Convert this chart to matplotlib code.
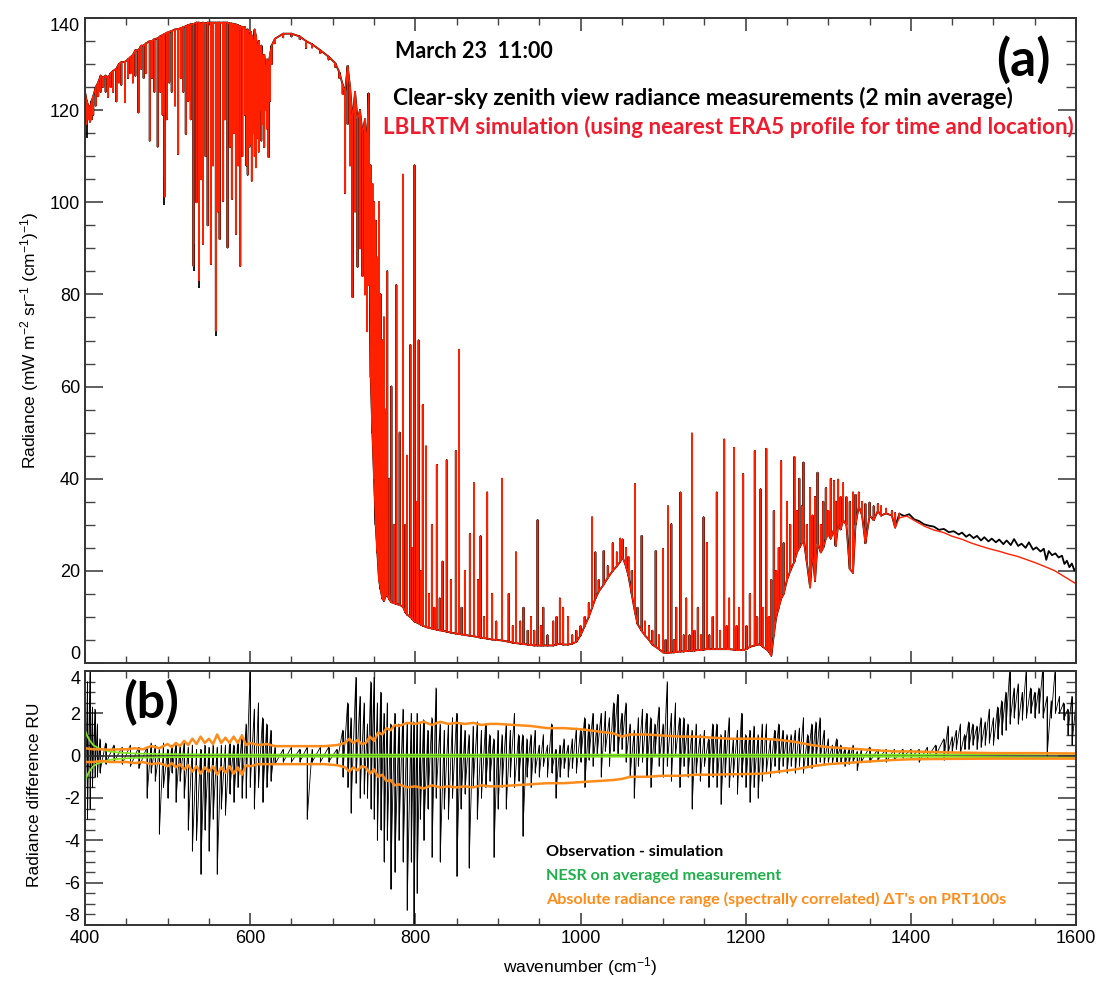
import numpy as np
import matplotlib
matplotlib.use("Agg")
import matplotlib.pyplot as plt
from matplotlib.ticker import MultipleLocator

plt.rcParams['font.family'] = ['Liberation Sans', 'DejaVu Sans']
plt.rcParams['mathtext.default'] = 'regular'
plt.rcParams['axes.unicode_minus'] = False

# ------------------------------------------------------------
# Panel (a): simulated spectrum
# (wavenumber, lower value, upper value) at each read position
# ------------------------------------------------------------
sim_wn = [400, 402, 404, 406, 408, 410, 413, 416, 419, 422, 425, 428, 431, 434, 438, 441, 444, 448.5,
          452, 455, 458, 461, 464.7, 468, 471, 474, 478.4, 481, 484, 488, 491, 494, 496.2, 499, 502,
          505, 509, 512.8, 516, 519, 522, 525, 528, 531.4, 535, 538, 540.5, 542.9, 546, 548.5, 552.4,
          555, 558.4, 561, 563, 567.3, 569.5, 572.6, 575.4, 577.8, 580.5, 582.7, 585.5, 588, 590.5,
          593.6, 595.5, 597, 599, 600.5, 602, 604, 605.5, 607, 609, 610.5, 612, 613.5, 615, 617, 619,
          620.5, 622.3, 624, 626, 630, 640, 650, 660, 667.6, 675, 685, 695, 703, 708, 712, 715, 718,
          721, 724, 727, 730, 733, 736, 739, 741.5, 743.4, 746, 748, 750, 752, 754, 756, 758, 760,
          762, 764, 766, 768.5, 771, 774, 777, 781, 785, 788, 790, 794, 796.5, 799, 802, 804, 807,
          809, 813, 816.5, 820, 823, 826, 829.5, 833, 838, 843, 849, 853, 856, 860, 866, 871, 876,
          879, 883, 887, 893, 898, 905, 913, 918, 922, 927, 931, 936, 940, 944, 948, 952, 955, 960,
          967, 971, 975, 979, 985, 990, 995, 1000, 1005, 1010, 1014, 1018, 1022, 1028, 1033, 1039,
          1044, 1048, 1051, 1055, 1058, 1062, 1066, 1069, 1074, 1078, 1083, 1087, 1091, 1095, 1100,
          1103, 1106, 1110, 1113, 1116, 1121, 1125, 1128, 1132, 1135, 1138, 1142, 1146, 1149, 1153,
          1156, 1160, 1165, 1169, 1174, 1177, 1180, 1186, 1189, 1192, 1197, 1201, 1205, 1211, 1214,
          1218, 1221, 1225, 1228, 1231, 1234, 1237, 1240, 1243, 1246, 1250, 1254, 1259, 1262, 1265,
          1268, 1270, 1274, 1278, 1281, 1284, 1287, 1291, 1294, 1297, 1300, 1303, 1307, 1309, 1312,
          1315, 1318, 1322, 1326, 1330, 1333, 1337, 1341, 1345, 1350, 1355, 1360, 1364, 1370, 1377,
          1381, 1386, 1395, 1405, 1417, 1428, 1440, 1450, 1462, 1473, 1484, 1495, 1507, 1518, 1529,
          1540, 1551, 1562, 1574, 1585, 1600]
sim_lo = [121, 117, 118, 117.5, 118, 119, 121, 123, 124, 125, 124, 122.9, 125, 124, 121.9, 126, 125.5, 121.7,
          127, 128, 126, 127.5, 119.5, 129, 127, 128, 113.4, 127, 124, 112.1, 124, 119, 101.2, 118, 126,
          124, 121, 110.5, 127, 124, 114.8, 122, 118, 86.2, 100, 83, 105, 91, 110, 95, 86.6,
          108, 72.1, 98, 92, 100.3, 118, 90.2, 112, 100.7, 115, 93.1, 108, 86.2, 110,
          119, 108, 106, 112, 112.6, 104.7, 115, 110, 107.6, 114, 111, 120, 113.4, 117, 112, 120,
          116, 109.8, 122, 130, 134.5, 135.8, 136, 135.4, 133.5, 133.6, 132.4, 131, 129.4, 127, 123.5, 102, 117,
          108, 79.4, 98, 86, 90, 84, 80, 72, 82, 62, 50, 40, 30, 24, 18, 16, 14,
          13.5, 14.5, 14.8, 13.8, 13.2, 13, 12.8, 12.6, 12.2, 11, 10.5, 10, 9.5, 9, 8.8, 8.6, 8.3,
          8.1, 7.8, 7.6, 7.5, 7.4, 7.2, 7.1, 7, 6.8, 6.6, 6.4, 6.3, 6.2, 6.1, 5.9, 5.8, 5.6,
          5.5, 5.4, 5.3, 5.1, 5, 4.9, 4.6, 4.4, 4.3, 4.2, 4.1, 4, 3.9, 3.8, 3.8, 3.8, 3.8, 3.8,
          3.8, 4, 4.2, 4, 4, 4.2, 4.6, 6, 8, 10, 12, 14, 15.5, 17, 18.5, 20,
          21, 22, 23, 21, 19, 15, 11, 8.5, 7, 6, 5, 4, 3.5, 3, 2.3,
          2.2, 2.2, 2.3, 2.3, 2.4, 2.5, 2.5, 2.6, 2.6, 2.7, 2.7, 2.8, 2.8, 2.9, 3,
          3, 3, 3, 3, 3, 3, 3, 2.9, 2.8, 2.8, 2.8, 3, 3.5, 3.8, 4,
          4, 3.5, 3, 2.5, 1.6, 6, 10, 12, 14, 15, 18, 20, 22, 24, 25,
          26, 27, 22, 16.4, 24, 17.8, 26, 24, 25, 27, 28, 27, 29, 25.4, 30,
          29, 31, 30, 20.4, 19.6, 30, 34, 32, 26, 32, 31, 33, 32, 32.5, 32,
          29.4, 31.5, 31.9, 30.85, 29.65, 28.85, 28.3, 27.5, 26.85, 26.05, 25.4, 24.8, 24.25, 23.65, 23.15,
          22.45, 21.75, 20.95, 20.05, 18.85, 17.2]
sim_hi = [124, 122, 121, 120, 122, 123, 125, 126, 127.5, 127, 127.5, 127, 128, 128.5, 129, 130, 130.4, 130.5,
          131, 131.5, 132, 133, 133, 134, 134, 134.5, 135, 135, 135.4, 135.6, 136, 136.3, 136.5, 136.8, 137,
          137.2, 137.5, 137.6, 137.8, 138, 138.2, 138.5, 138.6, 138.7, 139, 139, 138.8, 139, 138.8, 139, 139,
          139, 139, 139, 139, 139, 139, 139, 138.8, 138.8, 138.6, 138.6, 138.4, 138.2, 138,
          138, 137, 137.5, 135, 137, 136, 134, 137.5, 136, 133, 135, 130, 134, 131, 132, 128,
          131, 130, 132, 134, 135.5, 136.6, 136.6, 136, 135, 134.3, 133, 131.6, 130.2, 128.2, 125.5, 124, 129.6,
          125, 118, 124, 118, 120, 115, 118, 112, 123.6, 108, 104, 100, 96, 88, 100, 80, 70,
          75, 55, 85, 40, 60, 30, 82, 50, 106, 30, 45, 69, 25, 108, 35, 70, 20,
          56, 47, 15, 30, 12, 43, 14, 22, 44, 18, 46, 68, 12, 20, 28, 39, 18,
          27.5, 10, 37, 15, 9, 40, 15, 8, 24, 9, 12, 7, 10, 7, 31, 8, 12, 6,
          9, 10, 14, 12, 10, 6, 7, 8, 10, 13, 31.6, 24, 18, 24.3, 21, 26,
          24, 27, 26.8, 25, 23, 20, 38.8, 12, 27.6, 9, 8, 7, 24.3, 6, 24.7,
          5, 34, 30.1, 5, 12, 37, 6, 14, 6, 49.8, 7, 12, 6, 31.6, 26.1,
          6, 10, 37, 7, 48.5, 8, 14, 46.7, 8, 12, 41, 8, 15, 46, 10,
          37.7, 12, 46.5, 10, 18, 33, 20, 25, 43.8, 26, 35, 30, 44.7, 33, 40,
          34, 43.5, 30, 38, 32, 36, 41.3, 30, 35, 38, 33, 40, 39.5, 35, 39.8,
          36, 39, 36, 35, 37, 36.5, 37, 35, 34.5, 34.8, 34, 34.5, 34, 33.5, 33,
          32.5, 32.5, 31.9, 30.85, 29.65, 28.85, 28.3, 27.5, 26.85, 26.05, 25.4, 24.8, 24.25, 23.65, 23.15,
          22.45, 21.75, 20.95, 20.05, 18.85, 17.2]

# measured spectrum departs from the simulation above ~1380 cm-1
obs_tail_wn = [1386, 1392, 1398, 1404, 1410, 1416, 1422, 1428, 1434, 1440, 1446, 1452, 1458, 1462,
               1467, 1471, 1476, 1480, 1485, 1489, 1494, 1498, 1503, 1507, 1512, 1516, 1521, 1525,
               1530, 1534, 1539, 1543, 1548, 1552, 1557, 1561, 1564, 1567, 1571, 1575, 1579, 1583,
               1586, 1589, 1592, 1595, 1598, 1600]
obs_tail_val = [32.4, 31.9, 32.3, 31.2, 30.8, 30.1, 29.8, 29.6, 28.9, 29.1, 28.4, 28.6, 27.9, 28.3,
                27.4, 27.9, 27.1, 27.6, 26.6, 27.3, 26.4, 27.0, 26.2, 26.8, 25.8, 26.6, 25.6, 26.9,
                25.4, 25.9, 25.0, 26.2, 24.6, 25.1, 24.2, 24.8, 22.4, 24.3, 23.4, 23.8, 22.9, 23.3,
                21.5, 22.2, 20.8, 21.6, 20.1, 20.6]
# deeper black line cores visible below the red
obs_dip_wn = [403, 496.2, 531.4, 538, 558.4]
obs_dip_lo = [114, 99.5, 85, 81.5, 71.0]

# ------------------------------------------------------------
# Panel (b): observation - simulation (local min / max)
# ------------------------------------------------------------
res_wn = [400, 403, 406, 409, 412, 415, 418, 425, 435, 445, 455, 465, 475, 480, 485, 490, 495, 500,
          505, 510, 515, 520, 525, 530, 535, 540, 545, 550, 555, 560, 565, 570, 575, 580, 585, 590,
          595, 600, 605, 610, 615, 620, 625, 630, 640, 650, 660, 669, 675, 685, 695, 705, 712, 718,
          722, 728, 733, 738, 742, 746, 750, 754, 758, 762, 766, 770, 775, 780, 785, 790, 795, 798,
          802, 806, 810, 815, 820, 825, 830, 835, 840, 845, 850, 855, 860, 865, 870, 875, 880, 885,
          890, 895, 900, 905, 910, 915, 920, 925, 930, 935, 940, 945, 950, 955, 960, 965, 970, 975,
          980, 985, 990, 995, 1000, 1005, 1010, 1015, 1020, 1025, 1030, 1035, 1040, 1045, 1050, 1055,
          1060, 1065, 1070, 1075, 1080, 1085, 1090, 1095, 1100, 1105, 1110, 1115, 1120, 1125, 1130,
          1135, 1140, 1145, 1150, 1155, 1160, 1165, 1170, 1175, 1180, 1185, 1190, 1195, 1200, 1205,
          1210, 1215, 1220, 1225, 1230, 1235, 1240, 1245, 1250, 1255, 1260, 1265, 1270, 1275, 1280,
          1285, 1290, 1295, 1300, 1305, 1310, 1315, 1320, 1325, 1330, 1335, 1340, 1350, 1360, 1370,
          1380, 1390, 1400, 1410, 1420, 1430, 1440, 1445, 1450, 1455, 1460, 1465, 1470, 1475, 1480,
          1485, 1490, 1495, 1500, 1505, 1510, 1515, 1520, 1525, 1530, 1535, 1540, 1545, 1550, 1555,
          1560, 1565, 1570, 1575, 1580, 1585, 1590, 1595, 1600]
res_lo = [-3.5, -3, -2.5, -1.5, -1, -1, -0.8, -0.4, -0.3, -0.4, -0.5, -0.6, -2, -0.8, -1.2, -3.7, -1.5, -2,
          -0.8, -2.2, -1.2, -2, -3.5, -4.5, -4, -5.6, -3.5, -4.5, -3, -5.6, -2.5, -2.8, -1.8, -2.2, -1.5, -2,
          -2, -1.5, -2.5, -1.5, -2.2, -1.5, -1.2, -0.4, -0.3, -0.3, -0.3, -3, -0.3, -0.3, -0.3, -0.4, -1, -1.5,
          -2.7, -1.3, -2, -1.8, -2, -2.5, -3, -4, -3.5, -5, -4, -6.3, -5.5, -4, -5, -7.3, -5, -8,
          -6.5, -3, -4, -2.5, -4.8, -2, -5, -2.5, -3, -2, -5.7, -2.5, -1.8, -5.3, -1.5, -3, -2, -1.5,
          -1.2, -4.8, -2.5, -1.5, -2.5, -1, -1.5, -1.2, -3.8, -1, -1.5, -0.8, -1, -0.5, -1, -0.8, -2, -1,
          -0.6, -1, -0.6, -0.8, -0.3, -1.5, -0.2, -0.5, 0, -1, 0.2, -0.5, 0.2, 0, 0.3, -0.3,
          -1, -2, -0.5, -0.3, -1, -1.5, 0, -0.5, -1, -0.5, -1.2, 0, -1.5, -0.5, -1,
          -2.5, -0.8, -1.2, -0.5, -1.5, -1, -1.5, -2.3, -1, -1.5, -1, -1.8, -1, -1.5, -2.2,
          -1.5, -2, -1.2, -0.8, -1, -0.5, -0.8, -0.5, -0.8, -0.5, -0.8, -0.5, -0.8, -0.5, -0.6,
          -0.4, -0.3, -0.4, -0.3, -0.4, -0.3, -0.3, -0.5, -0.4, -0.3, -0.7, -0.3, -0.3, -0.2, -0.3,
          -0.2, -0.1, -0.1, -0.3, -0.1, 0, -0.2, 0.1, 0.2, 0.3, 0.1, 0.3, 0.3, 0.5, 0.3,
          0.4, 0.5, 0.6, 0.5, 0.8, 1, 1.2, 1.5, 1.8, 1.5, 1.7, 1.8, 2, 1.8, 2,
          1.8, 0, 1.8, 2, 2, 1.7, 1, 0.5, 1]
res_hi = [4, 3.5, 4, 2.3, 2.2, 1.5, 0.8, 0.6, 0.5, 0.4, 0.5, 0.4, 0.4, 0.6, 0.5, 0.3, 0.6, 0.3,
          0.5, 0.5, 0.5, 0.6, 0.4, 0.5, 0.3, 0.3, 0.5, 0.4, 0.5, 0.4, 0.5, 0.5, 0.6, 0.5, 0.7, 1,
          1.5, 4.2, 2.2, 2.5, 1.8, 1.5, 1.2, 0.4, 0.3, 0.4, 0.3, 0.4, 0.3, 0.4, 0.4, 0.3, 1.2, 2.5,
          1.8, 3.7, 2.8, 2.5, 1.5, 3.5, 3.7, 2.5, 3, 2, 2.5, 1.5, 2, 1.5, 2.2, 1.5, 2, 1.6,
          2, 1.5, 1.7, 1.2, 1.8, 3.2, 1.5, 1.2, 1.5, 1.8, 2, 1.5, 1.2, 1, 1.4, 1.6, 1.2, 1.5,
          1, 0.8, 1.2, 1, 1.5, 1.2, 2, 1, 1, 0.8, 1, 1.2, 0.5, 1, 0.5, 1.5, 0.3, 0.5,
          0.8, 0.5, 0.8, 1.3, 1.2, 1.8, 1.5, 2, 1.5, 2, 2.1, 1.8, 2.5, 2.9, 2, 2.5,
          1.5, 1.2, 1.8, 2.2, 2, 1.8, 1.5, 2.3, 1.5, 3.5, 2, 2.5, 1.8, 1.8, 1.5,
          1.2, 1.5, 1, 1.2, 0.8, 1.5, 1.5, 1, 1.2, 1.8, 0.8, 1.2, 2, 1, 1.2,
          1.4, 1, 1.5, 1.5, 0.8, 1.2, 1.5, 1.2, 1, 1, 1.2, 1.3, 1.8, 1, 1.5,
          1.6, 1.8, 1.2, 0.8, 0.5, 0.8, 0.5, 0.3, 0.3, 0.5, 0.2, 0.3, 0.4, 0.3, 0.3,
          0.3, 0.3, 0.3, 0.3, 0.4, 0.5, 0.8, 1.4, 0.9, 1.2, 1.5, 1, 1.6, 1.5, 1.4,
          1.8, 1.6, 2.2, 1.8, 2.3, 2.6, 3, 4.2, 3.2, 3.4, 3, 4.2, 3.2, 3, 3.2,
          4.2, 2.8, 2.6, 4.2, 2.8, 2.5, 2.2, 2.8, 2.5]

# absolute radiance range from PRT temperature uncertainty (upper / lower)
prt_wn = [400, 410, 420, 430, 440, 450, 460, 470, 480, 490, 500, 505, 510, 515, 520, 525, 530, 535,
          540, 545, 550, 555, 560, 565, 570, 575, 580, 585, 590, 595, 600, 610, 620, 630, 650, 670,
          690, 705, 715, 720, 725, 730, 735, 740, 745, 750, 755, 760, 765, 770, 775, 780, 790, 800,
          810, 820, 830, 840, 850, 860, 870, 880, 890, 900, 920, 940, 960, 980, 1000, 1020, 1040,
          1050, 1060, 1080, 1100, 1120, 1140, 1160, 1180, 1200, 1220, 1240, 1260, 1280, 1300, 1320,
          1340, 1360, 1380, 1400, 1450, 1500, 1550, 1600]
prt_hi = [0.35, 0.3, 0.3, 0.28, 0.3, 0.3, 0.35, 0.3, 0.45, 0.35, 0.55, 0.4, 0.6, 0.45, 0.7, 0.5, 0.8, 0.55,
          0.9, 0.6, 0.8, 0.55, 1.0, 0.6, 0.85, 0.6, 0.9, 0.6, 0.95, 0.5, 0.6, 0.5, 0.55, 0.45, 0.45, 0.45,
          0.45, 0.5, 0.6, 0.8, 0.6, 0.75, 0.55, 0.6, 0.9, 0.7, 1.1, 1.0, 1.3, 1.2, 1.45, 1.4, 1.55, 1.5,
          1.6, 1.45, 1.6, 1.5, 1.55, 1.5, 1.55, 1.45, 1.5, 1.5, 1.45, 1.4, 1.3, 1.3, 1.25, 1.15, 1.05,
          0.9, 1.0, 1.0, 0.95, 0.9, 0.9, 0.85, 0.8, 0.8, 0.8, 0.75, 0.65, 0.5, 0.4, 0.35,
          0.3, 0.25, 0.2, 0.2, 0.15, 0.12, 0.12, 0.1]
prt_lo = [-0.3, -0.3, -0.25, -0.3, -0.3, -0.3, -0.35, -0.3, -0.4, -0.35, -0.5, -0.35, -0.55, -0.4, -0.65, -0.45, -0.75, -0.5,
          -0.85, -0.55, -0.75, -0.5, -0.9, -0.55, -0.8, -0.5, -0.85, -0.55, -0.9, -0.45, -0.5, -0.4, -0.4, -0.4, -0.4, -0.4,
          -0.4, -0.45, -0.55, -0.75, -0.55, -0.7, -0.5, -0.55, -0.85, -0.65, -1.0, -0.9, -1.2, -1.15, -1.4, -1.35, -1.5, -1.45,
          -1.55, -1.4, -1.5, -1.45, -1.5, -1.45, -1.5, -1.4, -1.45, -1.45, -1.4, -1.35, -1.3, -1.3, -1.25, -1.2, -1.15,
          -1.1, -1.0, -1.0, -0.95, -0.95, -0.9, -0.9, -0.88, -0.87, -0.85, -0.75, -0.65, -0.5, -0.4, -0.35,
          -0.3, -0.25, -0.2, -0.17, -0.15, -0.14, -0.14, -0.14]

# NESR of the averaged measurement (+/-)
nesr_wn = [400, 403, 406, 410, 415, 420, 430, 440, 460, 500, 600, 1400, 1500, 1600]
nesr_val = [1.2, 0.9, 0.7, 0.5, 0.38, 0.3, 0.2, 0.15, 0.1, 0.07, 0.05, 0.05, 0.07, 0.1]

y_ticks_a = [0, 20, 40, 60, 80, 100, 120, 140]
y_ticks_b = [-8, -6, -4, -2, 0, 2, 4]
x_ticks = [400, 600, 800, 1000, 1200, 1400, 1600]


def spikes(wn, cont, peak):
    # continuum -> line extreme -> continuum at each read position
    x = np.repeat(np.asarray(wn, float), 3)
    y = np.column_stack([cont, peak, cont]).ravel()
    return x, y


def zigzag(wn, lo, hi):
    x = np.repeat(np.asarray(wn, float), 2)
    y = np.column_stack([hi, lo]).ravel()
    return x, y


sim_wn = np.array(sim_wn)
sim_lo = np.array(sim_lo)
sim_hi = np.array(sim_hi)
absorb = sim_wn < 746
sim_cont = np.where(absorb, sim_hi, sim_lo)
sim_peak = np.where(absorb, sim_lo, sim_hi)

keep = sim_wn < obs_tail_wn[0]
obs_x, obs_y = spikes(sim_wn[keep], sim_cont[keep], sim_peak[keep])
obs_x = np.concatenate([obs_x, obs_tail_wn])
obs_y = np.concatenate([obs_y, obs_tail_val])
sim_x, sim_y = spikes(sim_wn, sim_cont, sim_peak)

# ============================================================
fig = plt.figure(figsize=(11.16, 9.91), dpi=100)
W, H = 1116.0, 991.0
ax1 = fig.add_axes([85 / W, 1 - 663 / H, 991 / W, 645 / H])
ax2 = fig.add_axes([85 / W, 1 - 925 / H, 991 / W, 254 / H])

# --- panel (a) ---
ax1.plot(obs_x, obs_y, color='black', lw=1.3)
ax1.vlines(obs_dip_wn, obs_dip_lo, np.array(obs_dip_lo) + 6, color='black', lw=1.3)
ax1.plot(sim_x, sim_y, color='#ff2000', lw=1.0)
ax1.set_xlim(400, 1600)
ax1.set_ylim(0, 140)
ax1.set_xticks(x_ticks)
ax1.xaxis.set_minor_locator(MultipleLocator(50))
ax1.set_yticks(y_ticks_a)
ax1.yaxis.set_minor_locator(MultipleLocator(5))
ax1.tick_params(labelbottom=False)

# --- panel (b) ---
rx, ry = zigzag(res_wn, res_lo, res_hi)
ax2.vlines(res_wn, res_lo, res_hi, color='black', lw=0.7)
ax2.plot(rx, ry, color='black', lw=0.6)
ax2.axhline(0, color='#333333', lw=1.2)
ax2.plot(nesr_wn, nesr_val, color='#80e820', lw=1.3)
ax2.plot(nesr_wn, -np.array(nesr_val), color='#80e820', lw=1.3)
ax2.plot(prt_wn, prt_hi, color='#ff8c1a', lw=1.8)
ax2.plot(prt_wn, prt_lo, color='#ff8c1a', lw=1.8)
ax2.set_xlim(400, 1600)
ax2.set_ylim(-8, 4)
ax2.set_xticks(x_ticks)
ax2.xaxis.set_minor_locator(MultipleLocator(50))
ax2.set_yticks(y_ticks_b)
ax2.yaxis.set_minor_locator(MultipleLocator(0.5))

for ax in (ax1, ax2):
    for s in ax.spines.values():
        s.set_color('#333333')
        s.set_linewidth(1.4)
    ax.tick_params(which='both', direction='in', top=True, right=True, colors='#444444',
                   labelcolor='black', labelsize=13)
    ax.tick_params(axis='y', which='major', length=13, width=1.2)
    ax.tick_params(axis='y', which='minor', length=7, width=1.0)
    ax.tick_params(axis='x', which='major', length=9, width=1.2)
    ax.tick_params(axis='x', which='minor', length=5, width=1.0)
    # keep the end labels inside the panel, as in the original
    labs = ax.get_yticklabels()
    labs[0].set_va('bottom')
    labs[-1].set_va('top')

# --- texts ---
tfont = ['Lato', 'DejaVu Sans']
fig.text(395 / W, 1 - 52 / H, "March 23  11:00", family=tfont, fontweight='bold', fontsize=15.5,
         va='center', ha='left')
fig.text(996 / W, 1 - 60 / H, "(a)", family=tfont, fontweight='bold', fontsize=37,
         va='center', ha='left')
fig.text(393 / W, 1 - 98 / H, "Clear-sky zenith view radiance measurements (2 min average)",
         family=tfont, fontweight='bold', fontsize=16.3, va='center', ha='left')
fig.text(383 / W, 1 - 127 / H, "LBLRTM simulation (using nearest ERA5 profile for time and location)",
         family=tfont, fontweight='bold', fontsize=16.1, va='center', ha='left', color='#ee1c2e')
fig.text(123 / W, 1 - 703 / H, "(b)", family=tfont, fontweight='bold', fontsize=36,
         va='center', ha='left')
fig.text(546 / W, 1 - 852 / H, "Observation - simulation", family=tfont, fontweight='bold',
         fontsize=11.6, va='center', ha='left')
fig.text(546 / W, 1 - 876 / H, "NESR on averaged measurement", family=tfont, fontweight='bold',
         fontsize=11.6, va='center', ha='left', color='#1fb04c')
fig.text(546 / W, 1 - 899 / H, "Absolute radiance range (spectrally correlated) \u0394T's on PRT100s",
         family=tfont, fontweight='bold', fontsize=11.6, va='center', ha='left', color='#ff8c1a')

fig.text(30 / W, 1 - 340 / H, r"Radiance (mW m$^{-2}$ sr$^{-1}$ (cm$^{-1}$)$^{-1}$)",
         rotation=90, va='center', ha='center', fontsize=12.5)
fig.text(35 / W, 1 - 795 / H, "Radiance difference RU", rotation=90, va='center', ha='center',
         fontsize=12.5)
fig.text(580 / W, 1 - 967 / H, r"wavenumber (cm$^{-1}$)", va='center', ha='center', fontsize=12.5)

fig.savefig("out.png", dpi=100)
